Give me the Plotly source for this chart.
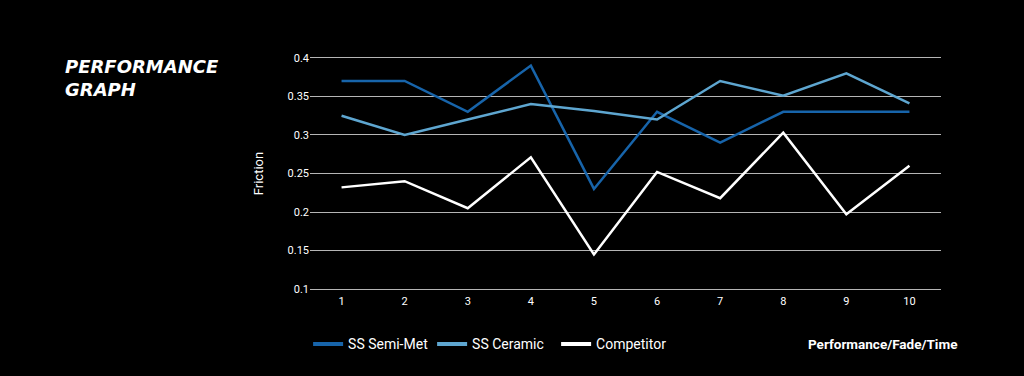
import plotly.graph_objects as go

x_vals = [1, 2, 3, 4, 5, 6, 7, 8, 9, 10]
semi_met = [0.37, 0.37, 0.33, 0.39, 0.23, 0.33, 0.29, 0.33, 0.33, 0.33]
ceramic = [0.325, 0.30, 0.32, 0.34, 0.331, 0.32, 0.37, 0.351, 0.38, 0.341]
competitor = [0.232, 0.24, 0.205, 0.271, 0.145, 0.252, 0.218, 0.303, 0.197, 0.26]
y_ticks = [0.1, 0.15, 0.2, 0.25, 0.3, 0.35, 0.4]
y_tick_labels = ["0.1", "0.15", "0.2", "0.25", "0.3", "0.35", "0.4"]

FONT = "Roboto, sans-serif"

fig = go.Figure()
series = [("SS Semi-Met", semi_met, "#1764aa"),
          ("SS Ceramic", ceramic, "#5ea6d0"),
          ("Competitor", competitor, "#ffffff")]
for name, vals, col in series:
    fig.add_trace(go.Scatter(x=x_vals, y=vals, mode="lines", name=name,
                             line=dict(color=col, width=2.5), showlegend=False))
# legend entries with thicker sample lines
for name, vals, col in series:
    fig.add_trace(go.Scatter(x=[None], y=[None], mode="lines", name=name,
                             line=dict(color=col, width=4), showlegend=True,
                             hoverinfo="skip"))

fig.update_layout(
    width=1024, height=376,
    paper_bgcolor="#000000", plot_bgcolor="#000000",
    margin=dict(l=310, r=83, t=54, b=83),
    font=dict(family=FONT, color="#ffffff", size=12),
    showlegend=True,
    legend=dict(orientation="h", x=-0.003, xanchor="left", y=-0.215, yanchor="middle",
                font=dict(size=14, color="#ffffff", family=FONT),
                entrywidth=79, entrywidthmode="pixels",
                bgcolor="rgba(0,0,0,0)"),
    xaxis=dict(range=[0.5, 10.5], tickmode="array", tickvals=x_vals,
               ticktext=[str(v) for v in x_vals], showgrid=False, zeroline=False,
               showline=False, tickfont=dict(size=11, color="#ffffff"), ticks=""),
    yaxis=dict(range=[0.095, 0.405], tickmode="array", tickvals=y_ticks,
               ticktext=y_tick_labels, showgrid=True, gridcolor="#b5b5b5", gridwidth=1,
               zeroline=False, showline=False, ticks="",
               tickfont=dict(size=11, color="#ffffff"),
               title=dict(text="Friction", font=dict(size=13, color="#ffffff"), standoff=20)),
)

fig.add_annotation(xref="paper", yref="paper", x=(63 - 310) / 631, y=1.0,
                   xanchor="left", yanchor="top", align="left", showarrow=False,
                   text="<b><i>PERFORMANCE<br>GRAPH</i></b>",
                   font=dict(family="DejaVu Sans, sans-serif", size=18, color="#ffffff"))
fig.add_annotation(xref="paper", yref="paper", x=(806 - 310) / 631, y=-0.215,
                   xanchor="left", yanchor="middle", showarrow=False,
                   text="<b>Performance/Fade/Time</b>",
                   font=dict(family=FONT, size=13.5, color="#ffffff"))

fig.write_html("out.html", config={"displayModeBar": False},
               post_script="document.body.style.margin='0';document.body.style.background='#000';")
